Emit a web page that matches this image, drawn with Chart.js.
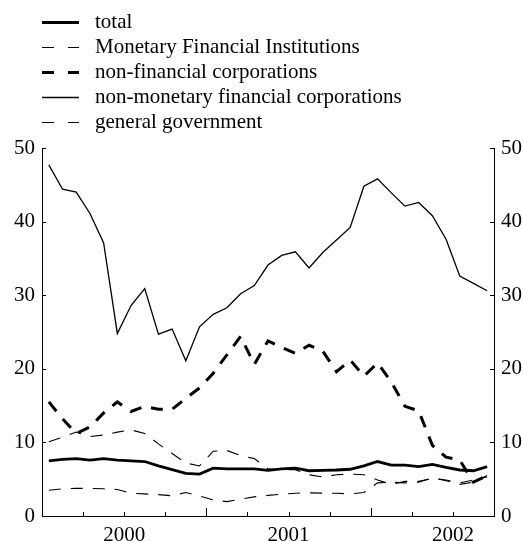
<!DOCTYPE html>
<html>
<head>
<meta charset="utf-8">
<script src="https://cdn.jsdelivr.net/npm/chart.js@4.4.1/dist/chart.umd.min.js"></script>
<style>
  html, body { margin: 0; padding: 0; background: #fff; }
  #wrap { width: 523px; height: 541px; }
</style>
</head>
<body>
<div id="wrap"><canvas id="chart"></canvas></div>
<script>
// monthly observations, Jan 2000 - Sep 2002
const months = [
  "2000-01", "2000-02", "2000-03", "2000-04", "2000-05", "2000-06",
  "2000-07", "2000-08", "2000-09", "2000-10", "2000-11", "2000-12",
  "2001-01", "2001-02", "2001-03", "2001-04", "2001-05", "2001-06",
  "2001-07", "2001-08", "2001-09", "2001-10", "2001-11", "2001-12",
  "2002-01", "2002-02", "2002-03", "2002-04", "2002-05", "2002-06",
  "2002-07", "2002-08", "2002-09"
];
const yearLabels = ["2000", "2001", "2002"];
const yTicks = [0, 10, 20, 30, 40, 50];

const total = [7.5, 7.7, 7.8, 7.6, 7.8, 7.6, 7.5, 7.4, 6.8, 6.3, 5.8, 5.7, 6.5, 6.4, 6.4, 6.4, 6.2,
  6.4, 6.5, 6.15, 6.2, 6.25, 6.35, 6.8, 7.4, 6.9, 6.9, 6.7, 7.0, 6.6, 6.25, 6.15, 6.7];
const mfi = [10.1, 10.7, 11.4, 10.8, 11.0, 11.4, 11.7, 11.2, 9.8, 8.5, 7.2, 6.8, 8.8, 8.9, 8.2, 7.8, 6.4,
  6.3, 6.3, 5.6, 5.3, 5.6, 5.7, 5.6, 4.9, 4.3, 4.7, 4.7, 5.1, 4.9, 4.5, 4.9, 5.3];
const nfc = [15.5, 13.2, 11.2, 12.1, 14.0, 15.5, 14.2, 14.9, 14.5, 14.5, 16.0, 17.4, 19.4, 21.9, 24.4, 20.6, 23.8,
  22.9, 22.1, 23.2, 22.4, 19.6, 21.2, 19.0, 20.8, 18.2, 14.9, 14.3, 9.6, 8.0, 7.6, 4.6, 5.5];
const nmfc = [47.7, 44.4, 44.0, 41.1, 37.1, 24.8, 28.6, 30.9, 24.7, 25.4, 21.1, 25.7, 27.4, 28.3, 30.2, 31.3, 34.1,
  35.4, 35.9, 33.7, 35.8, 37.5, 39.2, 44.8, 45.8, 43.9, 42.1, 42.6, 40.8, 37.6, 32.6, 31.6, 30.6];
const gg = [3.5, 3.7, 3.75, 3.75, 3.7, 3.6, 3.1, 3.0, 2.9, 2.75, 3.2, 2.7, 2.2, 1.95, 2.3, 2.6, 2.8,
  2.95, 3.1, 3.15, 3.1, 3.1, 3.0, 3.2, 4.5, 4.6, 4.5, 4.6, 5.2, 4.8, 4.3, 4.6, 5.5];

const FONT = "'Liberation Serif', 'Times New Roman', serif";

// each month sits in the middle of its slot on the x axis
function toPoints(values) {
  return values.map((v, i) => ({ x: i + 0.5, y: v }));
}

function series(label, values, width, dash) {
  return {
    label: label,
    data: toPoints(values),
    borderColor: "#000",
    borderWidth: width,
    borderDash: dash,
    pointRadius: 0,
    tension: 0,
    fill: false,
    yAxisID: "y",
  };
}

// legend drawn in the top padding, one entry per row
const stackedLegend = {
  id: "stackedLegend",
  afterDraw(chart) {
    const ctx = chart.ctx;
    ctx.save();
    ctx.font = "21px " + FONT;
    ctx.textBaseline = "middle";
    ctx.fillStyle = "#000";
    chart.data.datasets.forEach((ds, i) => {
      const y = Math.round(22 + i * 25) + 0.5;
      ctx.strokeStyle = ds.borderColor;
      ctx.lineWidth = ds.borderWidth;
      ctx.setLineDash(ds.borderDash.length ? [12, 14] : []);
      ctx.beginPath();
      ctx.moveTo(42, y);
      ctx.lineTo(79, y);
      ctx.stroke();
      ctx.fillText(ds.label, 95, y);
    });
    ctx.restore();
  },
};

// tick marks pointing into the plot area
const innerTicks = {
  id: "innerTicks",
  afterDraw(chart) {
    const { ctx, chartArea, scales } = chart;
    ctx.save();
    ctx.strokeStyle = "#000";
    ctx.lineWidth = 1;
    ctx.setLineDash([]);
    ctx.beginPath();
    for (let m = 3; m < months.length; m += 3) {
      const px = Math.round(scales.x.getPixelForValue(m)) + 0.5;
      const len = m % 12 === 0 ? 8 : 4;
      ctx.moveTo(px, chartArea.bottom);
      ctx.lineTo(px, chartArea.bottom - len);
    }
    yTicks.forEach((v) => {
      const py = Math.round(scales.y.getPixelForValue(v)) + 0.5;
      ctx.moveTo(chartArea.left, py);
      ctx.lineTo(chartArea.left + 4, py);
      ctx.moveTo(chartArea.right, py);
      ctx.lineTo(chartArea.right - 4, py);
    });
    ctx.stroke();
    ctx.restore();
  },
};

const yAxis = (position, width) => ({
  type: "linear",
  position: position,
  min: 0,
  max: 50,
  afterFit: (scale) => { scale.width = width; },
  afterBuildTicks: (scale) => { scale.ticks = yTicks.map((v) => ({ value: v })); },
  grid: { drawOnChartArea: false, drawTicks: false },
  border: { display: true, color: "#000", width: 1 },
  ticks: {
    color: "#000",
    padding: 7,
    font: { family: FONT, size: 21 },
  },
});

new Chart(document.getElementById("chart"), {
  type: "line",
  data: {
    datasets: [
      series("total", total, 2.8, []),
      series("Monetary Financial Institutions", mfi, 1.1, [12, 10]),
      series("non-financial corporations", nfc, 3, [12, 10]),
      series("non-monetary financial corporations", nmfc, 1.3, []),
      series("general government", gg, 1.1, [12, 10]),
    ],
  },
  options: {
    responsive: true,
    maintainAspectRatio: false,
    animation: false,
    layout: { padding: { top: 148, left: 0, right: 0, bottom: 0 } },
    plugins: {
      legend: { display: false },
      tooltip: { enabled: false },
    },
    scales: {
      x: {
        type: "linear",
        min: 0,
        max: months.length,
        afterFit: (scale) => { scale.height = 25; },
        afterBuildTicks: (scale) => {
          scale.ticks = yearLabels.map((_, i) => ({ value: 6 + i * 12 }));
        },
        grid: { drawOnChartArea: false, drawTicks: false },
        border: { display: true, color: "#000", width: 1 },
        ticks: {
          color: "#000",
          padding: 7,
          maxRotation: 0,
          autoSkip: false,
          font: { family: FONT, size: 21 },
          callback: (value) => yearLabels[Math.round((value - 6) / 12)] || "",
        },
      },
      y: yAxis("left", 42),
      y2: yAxis("right", 29),
    },
  },
  plugins: [stackedLegend, innerTicks],
});
</script>
</body>
</html>
